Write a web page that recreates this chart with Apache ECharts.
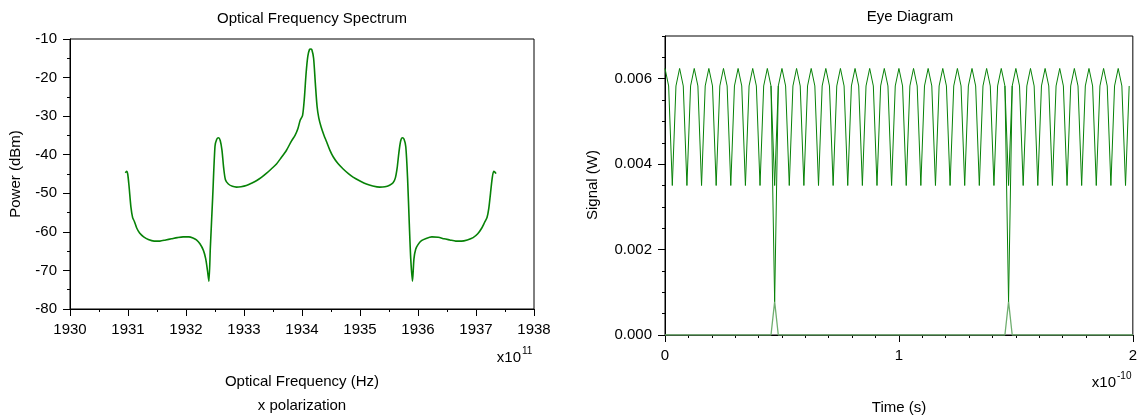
<!DOCTYPE html>
<html>
<head>
<meta charset="utf-8">
<script src="https://cdn.jsdelivr.net/npm/echarts@6/dist/echarts.min.js"></script>
<style>
html,body{margin:0;padding:0;background:#fff;}
#chart{width:1140px;height:419px;}
</style>
</head>
<body>
<div id="chart"></div>
<script>
// ---------- Optical Frequency Spectrum (x 1e11 Hz, dBm) ----------
const specFreq = [
 1930.955,1930.975,1930.995,1931.02,1931.05,1931.08,1931.11,1931.15,1931.20,1931.27,
 1931.35,1931.45,1931.55,1931.65,1931.75,1931.85,1931.95,1932.05,1932.12,1932.18,
 1932.24,1932.30,1932.34,1932.37,1932.395,1932.42,1932.46,1932.50,1932.53,1932.56,
 1932.59,1932.62,1932.65,1932.68,1932.73,1932.80,1932.87,1932.95,1933.04,1933.13,
 1933.22,1933.30,1933.39,1933.47,1933.56,1933.64,1933.73,1933.82,1933.88,1933.93,
 1933.97,1934.01,1934.04,1934.07,1934.10,1934.13,1934.15,1934.17,1934.20,1934.23,
 1934.26,1934.29,1934.33,1934.38,1934.42,1934.48,1934.54,1934.62,1934.71,1934.80,
 1934.88,1935.00,1935.11,1935.22,1935.34,1935.43,1935.51,1935.57,1935.61,1935.64,
 1935.67,1935.70,1935.73,1935.76,1935.79,1935.82,1935.85,1935.875,1935.905,1935.93,
 1935.96,1936.00,1936.06,1936.14,1936.24,1936.35,1936.45,1936.55,1936.65,1936.75,
 1936.85,1936.95,1937.03,1937.10,1937.15,1937.19,1937.22,1937.25,1937.28,1937.305,
 1937.325,1937.345
];
const specPower = [
 -44.7,-44.3,-45.0,-48.5,-53.5,-56.3,-57.3,-59.0,-60.3,-61.3,
 -62.0,-62.4,-62.4,-62.1,-61.8,-61.5,-61.3,-61.3,-61.6,-62.1,
 -63.1,-64.8,-67.0,-70.0,-72.8,-64.0,-51.0,-37.8,-36.0,-35.6,
 -36.3,-38.8,-43.5,-46.5,-47.6,-48.2,-48.4,-48.3,-48.0,-47.4,
 -46.7,-45.9,-44.8,-43.7,-42.4,-40.8,-38.9,-36.4,-35.0,-33.2,
 -31.0,-29.8,-25.5,-19.0,-14.5,-12.7,-12.6,-12.8,-15.0,-21.5,
 -27.5,-30.5,-32.8,-35.0,-36.5,-38.8,-40.6,-42.3,-43.7,-44.9,
 -45.8,-46.8,-47.6,-48.1,-48.4,-48.3,-47.9,-47.3,-46.0,-43.5,
 -39.5,-36.5,-35.6,-36.0,-38.0,-46.0,-58.0,-67.0,-72.8,-67.0,
 -64.5,-63.3,-62.3,-61.7,-61.3,-61.4,-61.8,-62.1,-62.4,-62.4,
 -62.1,-61.5,-60.5,-59.0,-57.5,-56.3,-54.0,-50.0,-46.0,-44.3,
 -44.5,-44.9
];
const specXTicks = [1930, 1938];
const specYTicks = [-80, -10];

// ---------- Eye Diagram (time x 1e-10 s, signal W) ----------
const eyeTime = [
 0,0.015625,0.03125,0.046875,0.0625,0.078125,0.09375,0.109375,
 0.125,0.140625,0.15625,0.171875,0.1875,0.203125,0.21875,0.234375,
 0.25,0.265625,0.28125,0.296875,0.3125,0.328125,0.34375,0.359375,
 0.375,0.390625,0.40625,0.421875,0.4375,0.453125,0.46875,0.484375,
 0.5,0.515625,0.53125,0.546875,0.5625,0.578125,0.59375,0.609375,
 0.625,0.640625,0.65625,0.671875,0.6875,0.703125,0.71875,0.734375,
 0.75,0.765625,0.78125,0.796875,0.8125,0.828125,0.84375,0.859375,
 0.875,0.890625,0.90625,0.921875,0.9375,0.953125,0.96875,0.984375,
 1,1.015625,1.03125,1.046875,1.0625,1.078125,1.09375,1.109375,
 1.125,1.140625,1.15625,1.171875,1.1875,1.203125,1.21875,1.234375,
 1.25,1.265625,1.28125,1.296875,1.3125,1.328125,1.34375,1.359375,
 1.375,1.390625,1.40625,1.421875,1.4375,1.453125,1.46875,1.484375,
 1.5,1.515625,1.53125,1.546875,1.5625,1.578125,1.59375,1.609375,
 1.625,1.640625,1.65625,1.671875,1.6875,1.703125,1.71875,1.734375,
 1.75,1.765625,1.78125,1.796875,1.8125,1.828125,1.84375,1.859375,
 1.875,1.890625,1.90625,1.921875,1.9375,1.953125,1.96875,1.984375
];
const eyeHigh = [
 0.00624,0.00583,0.0035,0.00583, 0.00624,0.00583,0.0035,0.00583,
 0.00624,0.00583,0.0035,0.00583, 0.00624,0.00583,0.0035,0.00583,
 0.00624,0.00583,0.0035,0.00583, 0.00624,0.00583,0.0035,0.00583,
 0.00624,0.00583,0.0035,0.00583, 0.00624,0.00583,0.0035,0.00583,
 0.00624,0.00583,0.0035,0.00583, 0.00624,0.00583,0.0035,0.00583,
 0.00624,0.00583,0.0035,0.00583, 0.00624,0.00583,0.0035,0.00583,
 0.00624,0.00583,0.0035,0.00583, 0.00624,0.00583,0.0035,0.00583,
 0.00624,0.00583,0.0035,0.00583, 0.00624,0.00583,0.0035,0.00583,
 0.00624,0.00583,0.0035,0.00583, 0.00624,0.00583,0.0035,0.00583,
 0.00624,0.00583,0.0035,0.00583, 0.00624,0.00583,0.0035,0.00583,
 0.00624,0.00583,0.0035,0.00583, 0.00624,0.00583,0.0035,0.00583,
 0.00624,0.00583,0.0035,0.00583, 0.00624,0.00583,0.0035,0.00583,
 0.00624,0.00583,0.0035,0.00583, 0.00624,0.00583,0.0035,0.00583,
 0.00624,0.00583,0.0035,0.00583, 0.00624,0.00583,0.0035,0.00583,
 0.00624,0.00583,0.0035,0.00583, 0.00624,0.00583,0.0035,0.00583,
 0.00624,0.00583,0.0035,0.00583, 0.00624,0.00583,0.0035,0.00583
];
// transition traces (high -> deep dip -> high)
const dip1Time = [0.453125, 0.46875, 0.484375];
const dip2Time = [1.453125, 1.46875, 1.484375];
const dipValue = [0.00583, 0.00078, 0.00583];
// zero-level trace with small bumps at the transitions
const zeroTime  = [0, 0.453125, 0.46875, 0.484375, 1.453125, 1.46875, 1.484375, 2];
const zeroValue = [0, 0, 0.00078, 0, 0, 0.00078, 0, 0];
const eyeXTicks = [0, 2];
const eyeYTicks = [0, 0.007];

const zip = (a, b) => a.map((v, i) => [v, b[i]]);
const FONT = '"Liberation Sans", Arial, sans-serif';
const GREEN = '#078207';

function axisCommon(extra) {
  return Object.assign({
    type: 'value',
    axisLine: { show: true, onZero: false, lineStyle: { color: '#000', width: 1 } },
    axisTick: { show: true, inside: false, length: 7, lineStyle: { color: '#000', width: 1 } },
    minorTick: { show: true, length: 3, lineStyle: { color: '#000', width: 1 } },
    splitLine: { show: false },
    minorSplitLine: { show: false },
    axisLabel: { color: '#000', fontSize: 15, fontFamily: FONT, margin: 13, formatter: v => String(v) }
  }, extra);
}

const chart = echarts.init(document.getElementById('chart'), null, { renderer: 'canvas' });
const option = {
  animation: false,
  backgroundColor: '#fff',
  grid: [
    { left: 70, top: 39, width: 464, height: 270, show: true, borderColor: '#000', borderWidth: 1, containLabel: false },
    { left: 665, top: 36, width: 468, height: 299, show: true, borderColor: '#000', borderWidth: 1, containLabel: false }
  ],
  xAxis: [
    axisCommon({ gridIndex: 0, min: specXTicks[0], max: specXTicks[1], interval: 1,
      minorTick: { show: true, splitNumber: 2, length: 3, lineStyle: { color: '#000' } } }),
    axisCommon({ gridIndex: 1, min: eyeXTicks[0], max: eyeXTicks[1], interval: 1,
      minorTick: { show: true, splitNumber: 10, length: 3, lineStyle: { color: '#000' } } })
  ],
  yAxis: [
    axisCommon({ gridIndex: 0, position: 'left', min: specYTicks[0], max: specYTicks[1], interval: 10,
      minorTick: { show: true, splitNumber: 2, length: 3, lineStyle: { color: '#000' } } }),
    axisCommon({ gridIndex: 1, position: 'left', min: eyeYTicks[0], max: eyeYTicks[1], interval: 0.002,
      minorTick: { show: false },
      axisLabel: { color: '#000', fontSize: 15, fontFamily: FONT, margin: 13, showMaxLabel: false,
        formatter: v => (Math.abs(v - 0.007) < 1e-9 ? '' : v.toFixed(3)) } }),
    axisCommon({ gridIndex: 1, position: 'left', offset: 0, min: eyeYTicks[0], max: eyeYTicks[1], interval: 0.0005,
      axisLine: { show: false }, axisLabel: { show: false }, minorTick: { show: false },
      axisTick: { show: true, length: 3, lineStyle: { color: '#000' } } })
  ],
  series: [
    { type: 'line', xAxisIndex: 0, yAxisIndex: 0, data: zip(specFreq, specPower),
      showSymbol: false, symbol: 'none', smooth: 0.25, lineStyle: { color: GREEN, width: 1.6 }, z: 3 },
    { type: 'line', xAxisIndex: 1, yAxisIndex: 1, data: zip(zeroTime, zeroValue),
      showSymbol: false, symbol: 'none', lineStyle: { color: '#6fae6f', width: 1.3 }, z: 3 },
    { type: 'line', xAxisIndex: 1, yAxisIndex: 1, data: zip(eyeTime, eyeHigh),
      showSymbol: false, symbol: 'none', lineStyle: { color: GREEN, width: 1 }, z: 4 },
    { type: 'line', xAxisIndex: 1, yAxisIndex: 1, data: zip(dip1Time, dipValue),
      showSymbol: false, symbol: 'none', lineStyle: { color: GREEN, width: 1 }, z: 4 },
    { type: 'line', xAxisIndex: 1, yAxisIndex: 1, data: zip(dip2Time, dipValue),
      showSymbol: false, symbol: 'none', lineStyle: { color: GREEN, width: 1 }, z: 4 }
  ],
  graphic: [
    txt('Optical Frequency Spectrum', 312, 19, 'center'),
    txt('Optical Frequency (Hz)', 302, 382, 'center'),
    txt('x polarization', 302, 406, 'center'),
    txt('x10', 521, 358, 'right'),
    txt('11', 522, 351, 'left', 10),
    txt('Power (dBm)', 16, 174, 'center', 15, Math.PI / 2),
    txt('Eye Diagram', 910, 17, 'center'),
    txt('Time (s)', 899, 408, 'center'),
    txt('x10', 1116, 383, 'right'),
    txt('-10', 1117, 376, 'left', 10),
    txt('Signal (W)', 593, 185, 'center', 15, Math.PI / 2)
  ]
};
function txt(text, x, y, align, size, rot) {
  return {
    type: 'text', x: x, y: y, rotation: rot || 0, silent: true,
    style: { text: text, fill: '#000', font: (size || 15) + 'px ' + FONT,
      align: align, textAlign: align, verticalAlign: 'middle', textVerticalAlign: 'middle' }
  };
}
chart.setOption(option);
</script>
</body>
</html>
